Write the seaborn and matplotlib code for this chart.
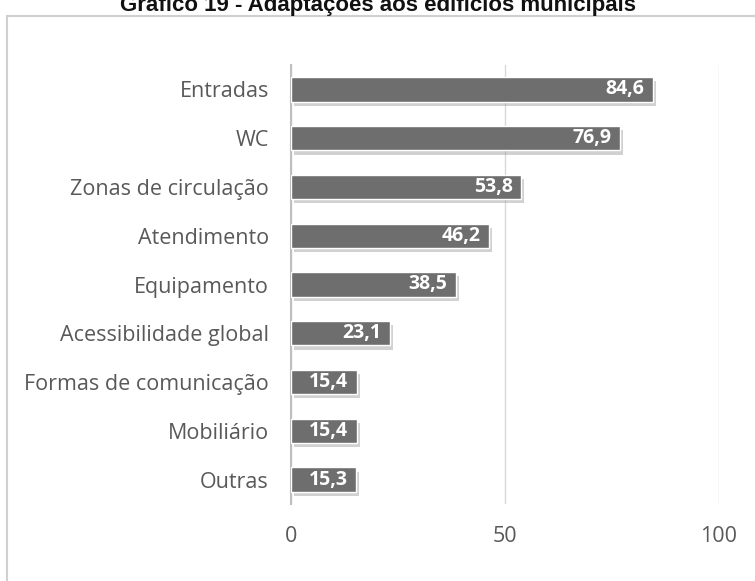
import matplotlib
matplotlib.use("Agg")
import matplotlib.pyplot as plt
import matplotlib.patheffects as pe
from matplotlib.patches import Rectangle
import seaborn as sns
import pandas as pd

categorias = ["Entradas", "WC", "Zonas de circulação", "Atendimento", "Equipamento",
              "Acessibilidade global", "Formas de comunicação", "Mobiliário", "Outras"]
valores = [84.6, 76.9, 53.8, 46.2, 38.5, 23.1, 15.4, 15.4, 15.3]
rotulos = ["84,6", "76,9", "53,8", "46,2", "38,5", "23,1", "15,4", "15,4", "15,3"]
ticks_x = [0, 50, 100]

df = pd.DataFrame({"cat": categorias, "val": valores})

sns.set_style("white")
plt.rcParams["font.family"] = ["Open Sans", "DejaVu Sans"]

fig = plt.figure(figsize=(7.55, 5.81), dpi=100)
ax = fig.add_axes([291 / 755, 1 - 504 / 581, (719 - 291) / 755, (504 - 65) / 581])

# moldura do gráfico
fig.patches.append(Rectangle((7 / 755, -0.1), 1.0, 1 - 16 / 581 + 0.1,
                             transform=fig.transFigure, fill=False,
                             edgecolor="#d0d0d0", linewidth=1.5))

sns.barplot(data=df, x="val", y="cat", orient="h", color="#6e6e6e",
            width=0.5, saturation=1, ax=ax, zorder=3)
for bar in ax.patches:
    bar.set_path_effects([pe.SimplePatchShadow(offset=(2, -3), shadow_rgbFace="#9a9a9a",
                                               alpha=0.45), pe.Normal()])

for i, (v, t) in enumerate(zip(valores, rotulos)):
    ax.text(v - 2.0, i, t, ha="right", va="center", color="white",
            fontsize=14, fontweight="bold", zorder=5)

ax.set_xlim(0, 100)
ax.set_ylim(8.5, -0.5)
ax.set_xticks(ticks_x)
ax.set_xticklabels([str(t) for t in ticks_x])
ax.xaxis.grid(True, color="#d9d9d9", linewidth=1, zorder=0)
ax.set_axisbelow(True)
for s in ["top", "right", "bottom"]:
    ax.spines[s].set_visible(False)
ax.spines["left"].set_color("#bfbfbf")
ax.spines["left"].set_linewidth(1.5)
ax.tick_params(axis="both", length=0, colors="#595959", labelsize=15.5)
ax.tick_params(axis="x", pad=16)
ax.tick_params(axis="y", pad=16)
ax.set_xlabel("")
ax.set_ylabel("")
ax.patch.set_alpha(0)

fig.text(0.5, 1 - 11 / 581, "Gráfico 19 - Adaptações aos edifícios municipais",
         ha="center", va="baseline", fontsize=16, fontweight="bold",
         family="Liberation Sans", color="#111111")

fig.savefig("out.png", dpi=100)
